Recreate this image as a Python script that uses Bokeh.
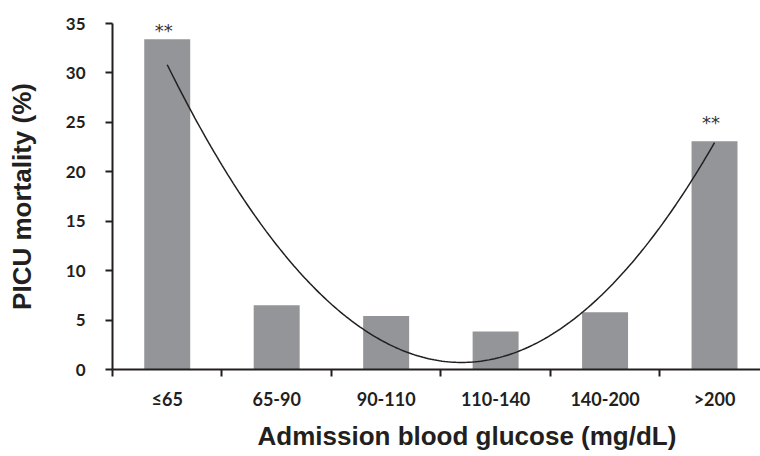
import numpy as np
from bokeh.plotting import figure
from bokeh.models import Range1d, FixedTicker, ColumnDataSource, Title
from bokeh.core.properties import value
from bokeh.embed import file_html
from bokeh.resources import INLINE

# ---- data ----
categories = ["≤65", "65-90", "90-110", "110-140", "140-200", ">200"]
mortality = [33.4, 6.5, 5.4, 3.85, 5.8, 23.1]
significance = ["**", "", "", "", "", "**"]
y_ticks = [0, 5, 10, 15, 20, 25, 30, 35]

n = len(categories)
centers = [i + 0.5 for i in range(n)]
bounds = list(range(n + 1))

# quadratic trendline (as in the original's polynomial fit)
xi = np.arange(1, n + 1)
coef = np.polyfit(xi, mortality, 2)
xs = np.linspace(1, n, 200)
ys = np.polyval(coef, xs)

DARK = "#231f20"
BAR = "#939598"

p = figure(width=760, height=456, output_backend="svg", toolbar_location=None,
           x_range=Range1d(0, 5.92), y_range=Range1d(0, 35),
           min_border_left=112, min_border_right=0, min_border_top=23, min_border_bottom=87)
p.outline_line_color = None
p.xgrid.visible = False
p.ygrid.visible = False
p.background_fill_color = "white"
p.border_fill_color = "white"

src = ColumnDataSource(dict(x=centers, top=mortality, cat=categories))
p.vbar(x="x", top="top", width=0.42, bottom=0, source=src, fill_color=BAR, line_color=None)

p.line(xs - 0.5, ys, line_color=DARK, line_width=1.5)

sig_src = ColumnDataSource(dict(x=centers, y=mortality, t=significance, off=[-9, 0, 0, 0, 0, -19]))
p.text(x="x", y="y", text="t", source=sig_src, y_offset="off", x_offset=-3.5,
       text_align="center", text_baseline="alphabetic",
       text_font=value("DejaVu Sans"), text_font_size="18px", text_color="#333333")

# x axis
xa = p.xaxis[0]
xa.ticker = FixedTicker(ticks=centers, minor_ticks=bounds)
xa.major_label_overrides = {c: lab for c, lab in zip(centers, categories)}
xa.major_tick_out = 0
xa.major_tick_in = 0
xa.minor_tick_out = 7
xa.minor_tick_in = 0
xa.minor_tick_line_width = 2
xa.minor_tick_line_color = DARK
xa.axis_line_width = 2
xa.axis_line_color = DARK
xa.major_label_text_font = "Lato"
xa.major_label_text_font_style = "bold"
xa.major_label_text_font_size = "18px"
xa.major_label_text_color = DARK
xa.major_label_standoff = 11

x_title = Title(text="Admission blood glucose (mg/dL)", align="left", offset=145, standoff=12,
                text_font="Liberation Sans", text_font_style="bold", text_font_size="26px",
                text_color=DARK)
p.add_layout(x_title, "below")

# y axis
ya = p.yaxis[0]
ya.ticker = FixedTicker(ticks=y_ticks)
ya.major_tick_out = 7
ya.major_tick_in = 0
ya.major_tick_line_width = 2
ya.major_tick_line_color = DARK
ya.minor_tick_line_color = None
ya.axis_line_width = 2
ya.axis_line_color = DARK
ya.major_label_text_font = "Lato"
ya.major_label_text_font_style = "bold"
ya.major_label_text_font_size = "17px"
ya.major_label_text_color = DARK
ya.major_label_standoff = 20
ya.axis_label = "PICU mortality (%)"
ya.axis_label_text_font = "Liberation Sans"
ya.axis_label_text_font_style = "bold"
ya.axis_label_text_font_size = "26px"
ya.axis_label_text_color = DARK
ya.axis_label_standoff = 26

open("out.html", "w").write(file_html(p, INLINE))
